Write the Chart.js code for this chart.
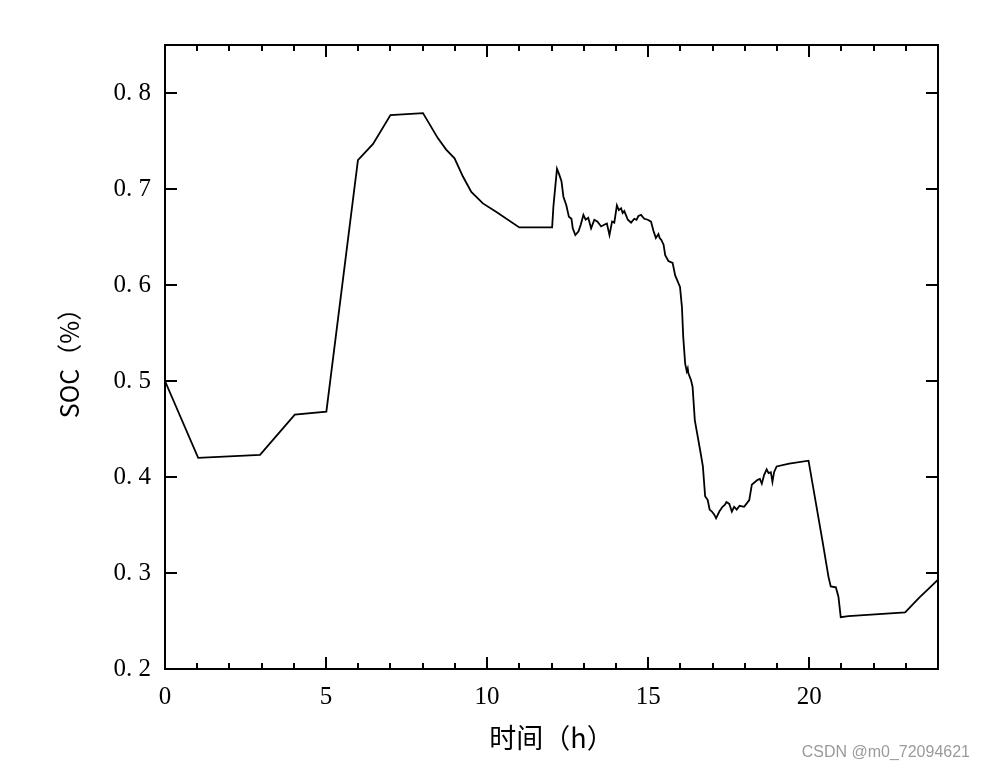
<!DOCTYPE html>
<html>
<head>
<meta charset="utf-8">
<script src="https://cdn.jsdelivr.net/npm/chart.js@4/dist/chart.umd.min.js"></script>
<style>
html,body{margin:0;padding:0;background:#fff;}
canvas{display:block;}
</style>
</head>
<body>
<canvas id="c" width="986" height="772"></canvas>
<script>
// ---- data ----
const timeH = [0, 1.03, 2.95, 4.03, 5.01, 5.99, 6.46, 7.0, 8.01, 8.47, 8.73, 8.99, 9.25, 9.51, 9.87, 10.29, 11.0, 12.0,
  12.02, 12.06, 12.17, 12.23, 12.31, 12.37, 12.46, 12.54, 12.62, 12.66, 12.74, 12.84, 12.91, 12.99, 13.06, 13.14, 13.23,
  13.33, 13.43, 13.54, 13.65, 13.72, 13.80, 13.88, 13.95, 14.03, 14.09, 14.16, 14.21, 14.26, 14.37, 14.47, 14.57, 14.64,
  14.70, 14.78, 14.88, 14.99, 15.09, 15.16, 15.24, 15.32, 15.36, 15.41, 15.48, 15.53, 15.63, 15.76, 15.84, 15.99, 16.05,
  16.09, 16.15, 16.20, 16.23, 16.25, 16.33, 16.38, 16.45, 16.54, 16.63, 16.70, 16.77, 16.85, 16.91, 16.98, 17.05, 17.11,
  17.21, 17.31, 17.38, 17.43, 17.52, 17.60, 17.67, 17.75, 17.84, 17.98, 18.05, 18.14, 18.22, 18.29, 18.40, 18.47, 18.53,
  18.60, 18.68, 18.74, 18.81, 18.86, 18.91, 18.99, 19.38, 19.98, 20.41, 20.60, 20.67, 20.83, 20.91, 20.98, 21.22, 22.98,
  23.41, 23.72, 24.0];
const socValues = [0.500, 0.420, 0.423, 0.465, 0.468, 0.730, 0.747, 0.777, 0.779, 0.753, 0.741, 0.732, 0.713, 0.697, 0.685, 0.676, 0.660, 0.660,
  0.660, 0.682, 0.721, 0.716, 0.708, 0.692, 0.683, 0.671, 0.669, 0.659, 0.652, 0.656, 0.663, 0.673, 0.668, 0.670, 0.659,
  0.668, 0.666, 0.661, 0.663, 0.664, 0.652, 0.666, 0.665, 0.683, 0.678, 0.680, 0.675, 0.677, 0.668, 0.665, 0.669, 0.668,
  0.672, 0.673, 0.669, 0.668, 0.666, 0.657, 0.649, 0.653, 0.649, 0.647, 0.642, 0.631, 0.625, 0.623, 0.610, 0.598, 0.577,
  0.546, 0.518, 0.510, 0.513, 0.508, 0.501, 0.494, 0.459, 0.442, 0.425, 0.411, 0.380, 0.376, 0.366, 0.364, 0.361, 0.357,
  0.364, 0.369, 0.371, 0.374, 0.372, 0.364, 0.369, 0.366, 0.370, 0.369, 0.372, 0.376, 0.392, 0.394, 0.397, 0.398, 0.393,
  0.402, 0.408, 0.404, 0.405, 0.395, 0.405, 0.411, 0.414, 0.417, 0.334, 0.296, 0.286, 0.285, 0.275, 0.254, 0.255, 0.259,
  0.274, 0.284, 0.293];
const xTickValues = [0, 5, 10, 15, 20];
const xMinorTickValues = [0,1,2,3,4,5,6,7,8,9,10,11,12,13,14,15,16,17,18,19,20,21,22,23,24];
const yTickValues = [0.2, 0.3, 0.4, 0.5, 0.6, 0.7, 0.8];
const xTitle = '时间（h）';
const yTitle = 'SOC（%）';
const watermark = 'CSDN @m0_72094621';

const points = timeH.map((t, i) => ({x: t, y: socValues[i]}));

const frameTicks = {
  id: 'frameTicks',
  afterDraw(chart) {
    const {ctx, chartArea: a, scales: {x, y}} = chart;
    ctx.save();
    ctx.strokeStyle = '#000';
    ctx.lineWidth = 2;
    ctx.strokeRect(a.left, a.top, a.right - a.left, a.bottom - a.top);
    ctx.beginPath();
    xMinorTickValues.forEach(v => {
      const px = Math.round(x.getPixelForValue(v));
      const len = xTickValues.includes(v) ? 12 : 6;
      ctx.moveTo(px, a.bottom); ctx.lineTo(px, a.bottom - len);
      ctx.moveTo(px, a.top); ctx.lineTo(px, a.top + len);
    });
    yTickValues.forEach(v => {
      const py = Math.round(y.getPixelForValue(v));
      ctx.moveTo(a.left, py); ctx.lineTo(a.left + 12, py);
      ctx.moveTo(a.right, py); ctx.lineTo(a.right - 12, py);
    });
    ctx.stroke();
    ctx.fillStyle = '#9a9a9a';
    ctx.font = '16px "Liberation Sans", Arial, sans-serif';
    ctx.textAlign = 'right';
    ctx.textBaseline = 'middle';
    ctx.fillText(watermark, 970, 753);
    ctx.restore();
  }
};

new Chart(document.getElementById('c'), {
  type: 'line',
  data: {
    datasets: [{
      data: points,
      borderColor: '#000',
      borderWidth: 1.8,
      pointRadius: 0,
      fill: false,
      tension: 0
    }]
  },
  options: {
    responsive: false,
    animation: false,
    layout: {padding: {top: 45, right: 48, left: 0, bottom: 0}},
    plugins: {legend: {display: false}, tooltip: {enabled: false}},
    scales: {
      x: {
        type: 'linear', min: 0, max: 24,
        afterBuildTicks: s => { s.ticks = xTickValues.map(v => ({value: v})); },
        afterFit: s => { s.height = 103; },
        grid: {display: false, drawTicks: false},
        border: {display: false},
        ticks: {color: '#000', padding: 13, maxRotation: 0,
          font: {family: '"Liberation Serif", "DejaVu Serif", serif', size: 25}},
        title: {display: true, text: xTitle, color: '#000',
          font: {family: '"Noto Sans CJK SC", sans-serif', size: 27}, padding: {top: 0, bottom: 18}}
      },
      y: {
        min: 0.2, max: 0.85,
        afterBuildTicks: s => { s.ticks = yTickValues.map(v => ({value: v})); },
        afterFit: s => { s.width = 165; },
        grid: {display: false, drawTicks: false},
        border: {display: false},
        ticks: {color: '#000', padding: 14,
          callback: v => v.toFixed(1).replace('.', '. '),
          font: {family: '"Liberation Serif", "DejaVu Serif", serif', size: 25}},
        title: {display: true, text: yTitle, color: '#000',
          font: {family: '"Noto Sans CJK SC", sans-serif', size: 25}, padding: {top: 54, bottom: 0}}
      }
    }
  },
  plugins: [frameTicks]
});
</script>
</body>
</html>
